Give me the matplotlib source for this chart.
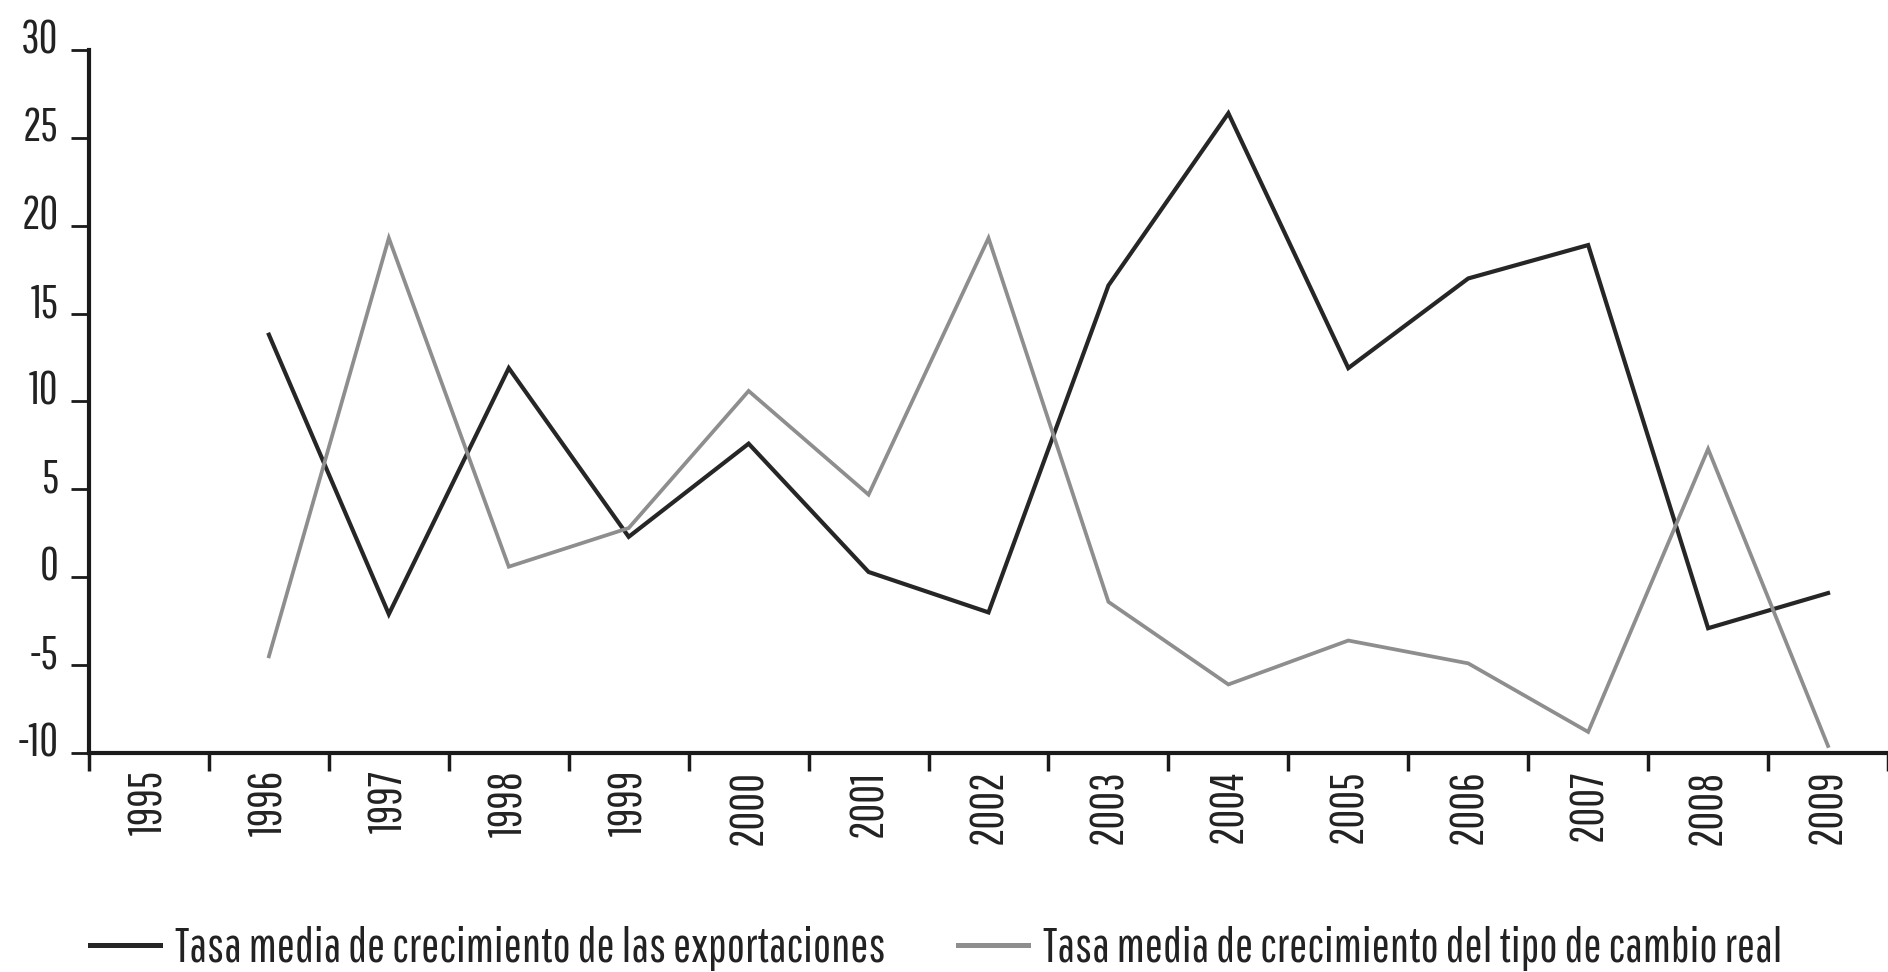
import matplotlib.pyplot as plt
import matplotlib.transforms as mtransforms
from matplotlib import font_manager as fm
import numpy as np

years = [str(y) for y in range(1995, 2010)]
exportaciones = [np.nan, 13.8, -2.1, 11.9, 2.3, 7.6, 0.3, -2.0, 16.6, 26.4, 11.9, 17.0, 18.9, -2.9, -0.9]
tipo_cambio = [np.nan, -4.5, 19.3, 0.6, 2.8, 10.6, 4.7, 19.3, -1.4, -6.1, -3.6, -4.9, -8.8, 7.3, -9.6]
y_ticks = [-10, -5, 0, 5, 10, 15, 20, 25, 30]
labels = ['Tasa media de crecimiento de las exportaciones',
          'Tasa media de crecimiento del tipo de cambio real']

# narrow font, like the condensed face of the original
installed = {f.name for f in fm.fontManager.ttflist}
wanted = ['Pathway Gothic One', 'Saira Extra Condensed', 'Sofia Sans Extra Condensed',
          'Oswald', 'Barlow Condensed', 'Roboto Condensed']
narrow = [f for f in wanted if f in installed][:1]
plt.rcParams['font.family'] = narrow + ['DejaVu Sans']
text_color = '#222222'

fig = plt.figure(figsize=(18.88, 9.72), dpi=100)
renderer = fig.canvas.get_renderer()


def size_for_width(s, width_px, ref=20):
    t = fig.text(0, 0, s, fontsize=ref)
    w = t.get_window_extent(renderer).width
    t.remove()
    return ref * width_px / w


tick_fs = size_for_width('1995', 65)
leg_fs = size_for_width(labels[0], 710)
em = leg_fs * 100 / 72  # legend font size in pixels

ax = fig.add_axes([89 / 1888, 0.2253, 1 - 89 / 1888, 0.7233])

x = np.arange(len(years))
ax.plot(x, exportaciones, color='#262626', lw=3, solid_joinstyle='miter', label=labels[0])
ax.plot(x, tipo_cambio, color='#8e8e8e', lw=2.7, solid_joinstyle='miter', label=labels[1])

ax.set_xlim(-0.5, 14.44)
ax.set_ylim(-10, 30)

for side in ['top', 'right']:
    ax.spines[side].set_visible(False)
for side in ['left', 'bottom']:
    ax.spines[side].set_linewidth(3)
    ax.spines[side].set_color('#1a1a1a')

# year labels at category centres, tick marks on category boundaries
ax.set_xticks(x)
ax.set_xticklabels(years, rotation=90, fontsize=tick_fs, color=text_color)
ax.tick_params(axis='x', which='major', length=0, pad=12)
ax.set_xticks(np.arange(-0.5, len(years), 1), minor=True)
ax.tick_params(axis='x', which='minor', length=13, width=2.5, color='#1a1a1a', direction='out')

ax.set_yticks(y_ticks)
ax.set_yticklabels([str(v) for v in y_ticks], fontsize=tick_fs, color=text_color)
ax.tick_params(axis='y', length=13, width=2, color='#1a1a1a', pad=9)
offset = mtransforms.ScaledTranslation(0, 14 / 100, fig.dpi_scale_trans)
for lab in ax.get_yticklabels():
    lab.set_transform(lab.get_transform() + offset)

leg = fig.legend(loc='center left', bbox_to_anchor=(90 / 1888, 1 - 948 / 972),
                 ncol=2, frameon=False, fontsize=leg_fs, handlelength=70 / em,
                 handletextpad=15 / em, columnspacing=72 / em,
                 borderaxespad=0, borderpad=0)
for t in leg.get_texts():
    t.set_color(text_color)
for h in leg.get_lines():
    h.set_linewidth(3.6)

fig.savefig('out.png', dpi=100)
